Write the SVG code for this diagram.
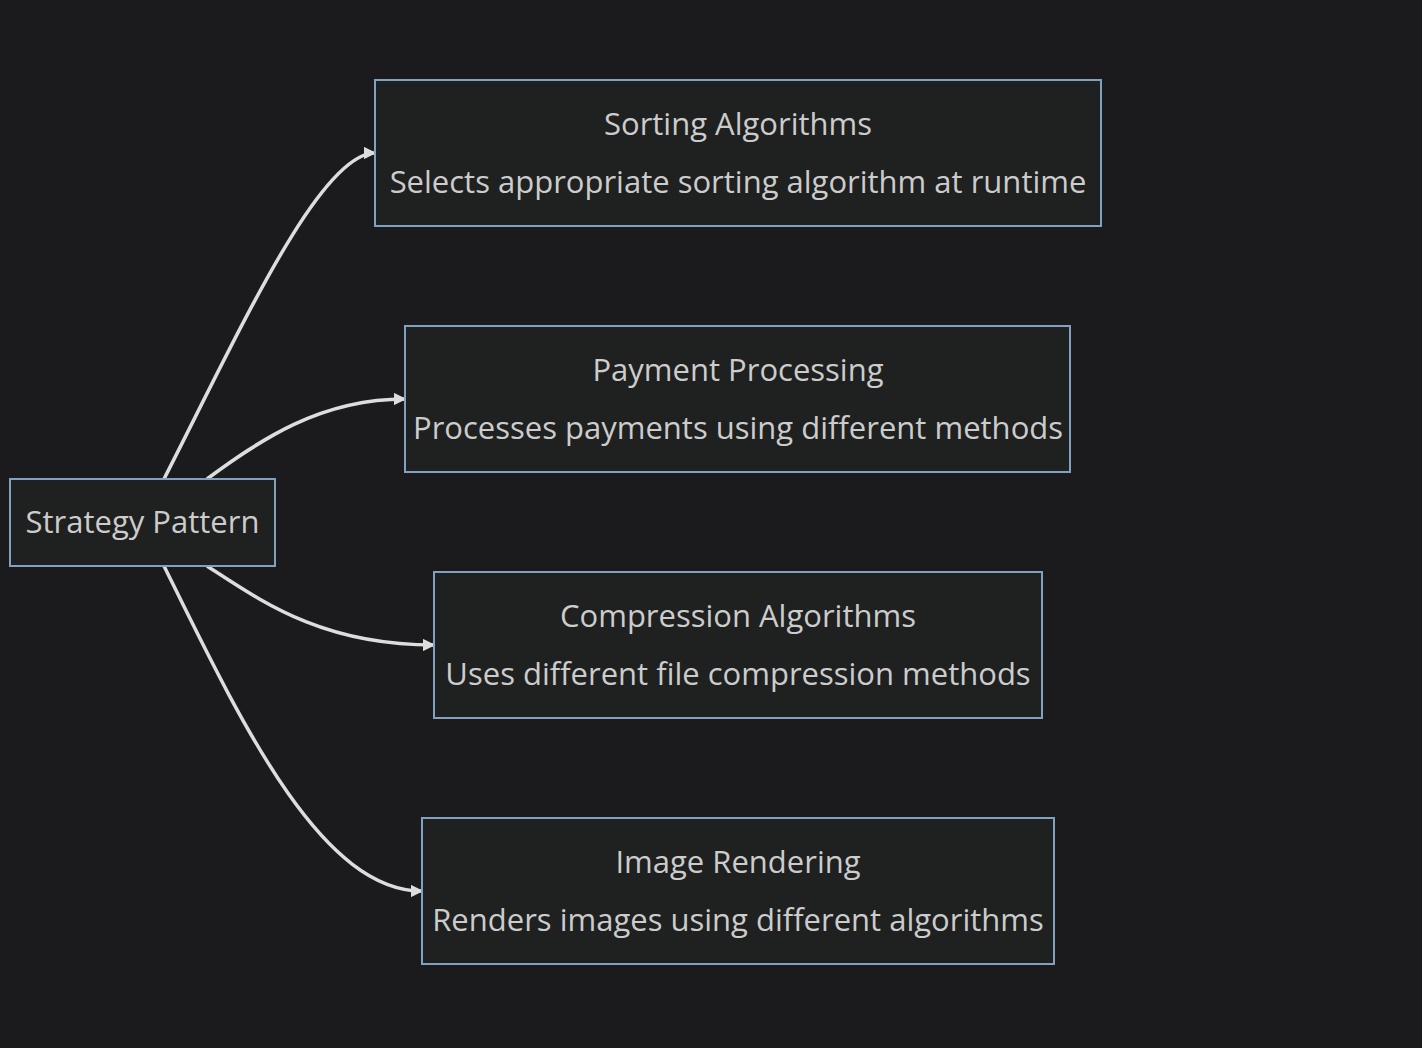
<svg xmlns="http://www.w3.org/2000/svg" width="1422" height="1048" viewBox="0 0 1422 1048">
<style>
.node rect{fill:#1f2020;stroke:#81a1c1;stroke-width:2}
.node text{fill:#cccccc;font-family:"Open Sans","Liberation Sans",sans-serif;font-size:31px;text-anchor:middle;dominant-baseline:central}
.edges path{fill:none;stroke:#dddddd;stroke-width:3.5}
</style>
<defs>
<marker id="arrow" viewBox="0 0 10 10" refX="9" refY="5" markerWidth="3.6" markerHeight="3.6" markerUnits="strokeWidth" orient="auto">
<path d="M0,0 L10,5 L0,10 z" fill="#dddddd"/>
</marker>
</defs>
<rect width="1422" height="1048" fill="#1b1b1d"/>
<g class="edges">
<path d="M164,479 C240,330 320,153 375,153" marker-end="url(#arrow)"/>
<path d="M207,479 C260,440 320,399 405,399" marker-end="url(#arrow)"/>
<path d="M207,566 C260,600 320,645 434,645" marker-end="url(#arrow)"/>
<path d="M164,566 C240,720 320,891 422,891" marker-end="url(#arrow)"/>
</g>
<g id="strategy" class="node"><rect x="10" y="479" width="265" height="87"/><text x="142.5" y="521">Strategy Pattern</text></g>
<g id="sorting" class="node"><rect x="375" y="80" width="726" height="146"/><text x="738" y="123">Sorting Algorithms</text><text x="738" y="181">Selects appropriate sorting algorithm at runtime</text></g>
<g id="payment" class="node"><rect x="405" y="326" width="665" height="146"/><text x="738" y="369">Payment Processing</text><text x="738" y="427">Processes payments using different methods</text></g>
<g id="compression" class="node"><rect x="434" y="572" width="608" height="146"/><text x="738" y="615">Compression Algorithms</text><text x="738" y="673">Uses different file compression methods</text></g>
<g id="image" class="node"><rect x="422" y="818" width="632" height="146"/><text x="738" y="861">Image Rendering</text><text x="738" y="919">Renders images using different algorithms</text></g>
</svg>
